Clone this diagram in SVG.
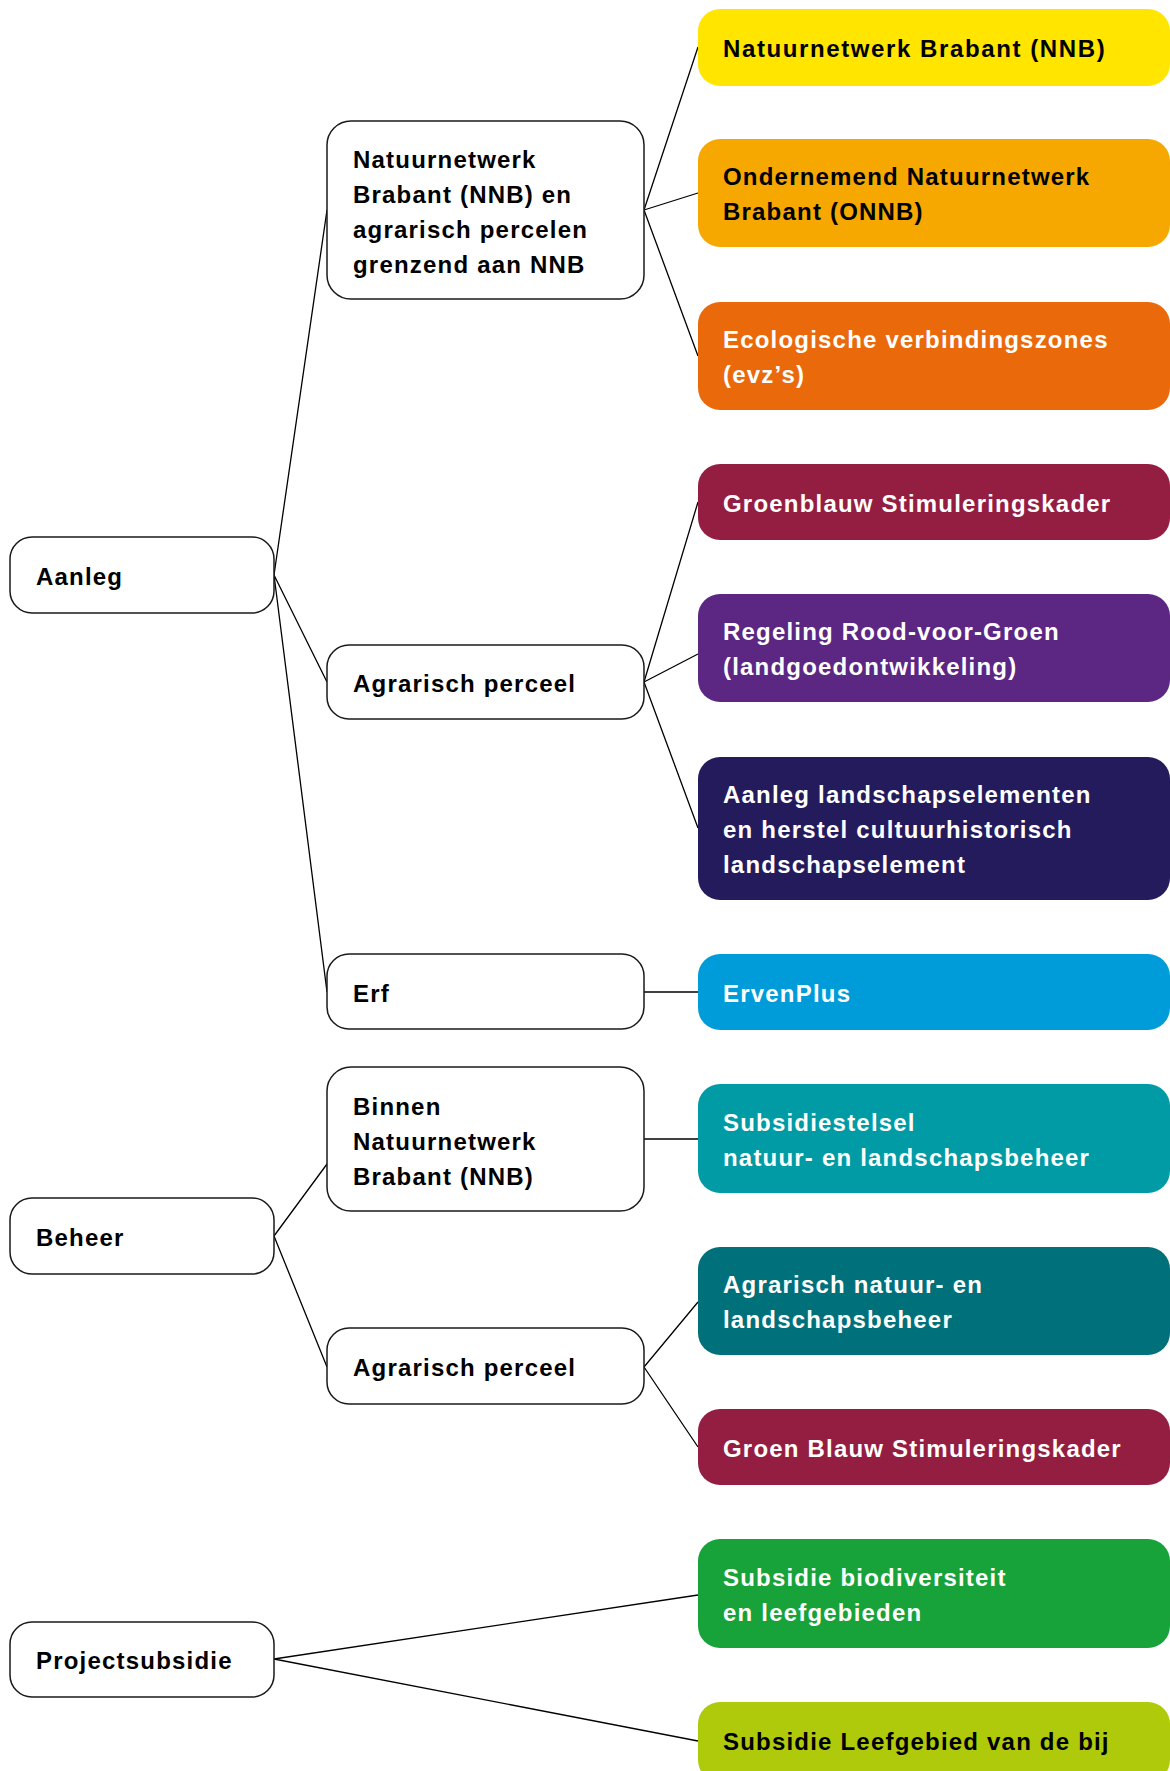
<svg xmlns="http://www.w3.org/2000/svg" width="1170" height="1771" viewBox="0 0 1170 1771">
<style>
text{font-family:"Liberation Sans",Arial,sans-serif;font-weight:bold;font-size:24px;letter-spacing:1.2px}
.w{fill:#fff;stroke:#1a1a1a;stroke-width:1.5}
.dk{fill:#000}
.lt{fill:#fff}
.c{stroke:#000;stroke-width:1.3;fill:none}
</style>
<rect width="1170" height="1771" fill="#fff"/>
<g id="connectors">
<path class="c" d="M274 575L327 210M274 575L327 682M274 575L327 992"/>
<path class="c" d="M644 210L698 47M644 210L698 193M644 210L698 356"/>
<path class="c" d="M644 682L698 502M644 682L698 654M644 682L698 828"/>
<path class="c" d="M644 992L698 992"/>
<path class="c" d="M274 1236L327 1164M274 1236L327 1367"/>
<path class="c" d="M644 1139L698 1139"/>
<path class="c" d="M644 1367L698 1302M644 1367L698 1447"/>
<path class="c" d="M274 1659L698 1595M274 1659L698 1741"/>
</g>
<g id="aanleg"><rect class="w" x="10" y="537" width="264" height="76" rx="22"/><text class="dk" x="36" y="585">Aanleg</text></g>
<g id="beheer"><rect class="w" x="10" y="1198" width="264" height="76" rx="22"/><text class="dk" x="36" y="1246">Beheer</text></g>
<g id="projectsubsidie"><rect class="w" x="10" y="1622" width="264" height="75" rx="22"/><text class="dk" x="36" y="1669">Projectsubsidie</text></g>
<g id="nnb-agrarisch"><rect class="w" x="327" y="121" width="317" height="178" rx="24"/><text class="dk" x="353" y="168">Natuurnetwerk</text><text class="dk" x="353" y="203">Brabant (NNB) en</text><text class="dk" x="353" y="238">agrarisch percelen</text><text class="dk" x="353" y="273">grenzend aan NNB</text></g>
<g id="agrarisch-perceel-1"><rect class="w" x="327" y="645" width="317" height="74" rx="22"/><text class="dk" x="353" y="692">Agrarisch perceel</text></g>
<g id="erf"><rect class="w" x="327" y="954" width="317" height="75" rx="22"/><text class="dk" x="353" y="1002">Erf</text></g>
<g id="binnen-nnb"><rect class="w" x="327" y="1067" width="317" height="144" rx="24"/><text class="dk" x="353" y="1115">Binnen</text><text class="dk" x="353" y="1150">Natuurnetwerk</text><text class="dk" x="353" y="1185">Brabant (NNB)</text></g>
<g id="agrarisch-perceel-2"><rect class="w" x="327" y="1328" width="317" height="76" rx="22"/><text class="dk" x="353" y="1376">Agrarisch perceel</text></g>
<g id="r-nnb"><rect x="698" y="9" width="472" height="77" rx="22" fill="#FFE500"/><text class="dk" x="723" y="57" style="letter-spacing:1.6px">Natuurnetwerk Brabant (NNB)</text></g>
<g id="r-onnb"><rect x="698" y="139" width="472" height="108" rx="22" fill="#F6A800"/><text class="dk" x="723" y="185">Ondernemend Natuurnetwerk</text><text class="dk" x="723" y="220">Brabant (ONNB)</text></g>
<g id="r-evz"><rect x="698" y="302" width="472" height="108" rx="22" fill="#EA690B"/><text class="lt" x="723" y="348">Ecologische verbindingszones</text><text class="lt" x="723" y="383">(evz’s)</text></g>
<g id="r-groenblauw"><rect x="698" y="464" width="472" height="76" rx="22" fill="#941E41"/><text class="lt" x="723" y="512">Groenblauw Stimuleringskader</text></g>
<g id="r-rood-groen"><rect x="698" y="594" width="472" height="108" rx="22" fill="#5C2683"/><text class="lt" x="723" y="640">Regeling Rood-voor-Groen</text><text class="lt" x="723" y="675">(landgoedontwikkeling)</text></g>
<g id="r-landschap"><rect x="698" y="757" width="472" height="143" rx="22" fill="#241B5C"/><text class="lt" x="723" y="803">Aanleg landschapselementen</text><text class="lt" x="723" y="838">en herstel cultuurhistorisch</text><text class="lt" x="723" y="873">landschapselement</text></g>
<g id="r-ervenplus"><rect x="698" y="954" width="472" height="76" rx="22" fill="#009CD9"/><text class="lt" x="723" y="1002">ErvenPlus</text></g>
<g id="r-snl"><rect x="698" y="1084" width="472" height="109" rx="22" fill="#009BA4"/><text class="lt" x="723" y="1131">Subsidiestelsel</text><text class="lt" x="723" y="1166">natuur- en landschapsbeheer</text></g>
<g id="r-anlb"><rect x="698" y="1247" width="472" height="108" rx="22" fill="#00707A"/><text class="lt" x="723" y="1293">Agrarisch natuur- en</text><text class="lt" x="723" y="1328">landschapsbeheer</text></g>
<g id="r-groen-blauw"><rect x="698" y="1409" width="472" height="76" rx="22" fill="#941E41"/><text class="lt" x="723" y="1457">Groen Blauw Stimuleringskader</text></g>
<g id="r-biodiv"><rect x="698" y="1539" width="472" height="109" rx="22" fill="#17A33A"/><text class="lt" x="723" y="1586">Subsidie biodiversiteit</text><text class="lt" x="723" y="1621">en leefgebieden</text></g>
<g id="r-bij"><rect x="698" y="1702" width="472" height="80" rx="22" fill="#AFCA0B"/><text class="dk" x="723" y="1750">Subsidie Leefgebied van de bij</text></g>
</svg>
